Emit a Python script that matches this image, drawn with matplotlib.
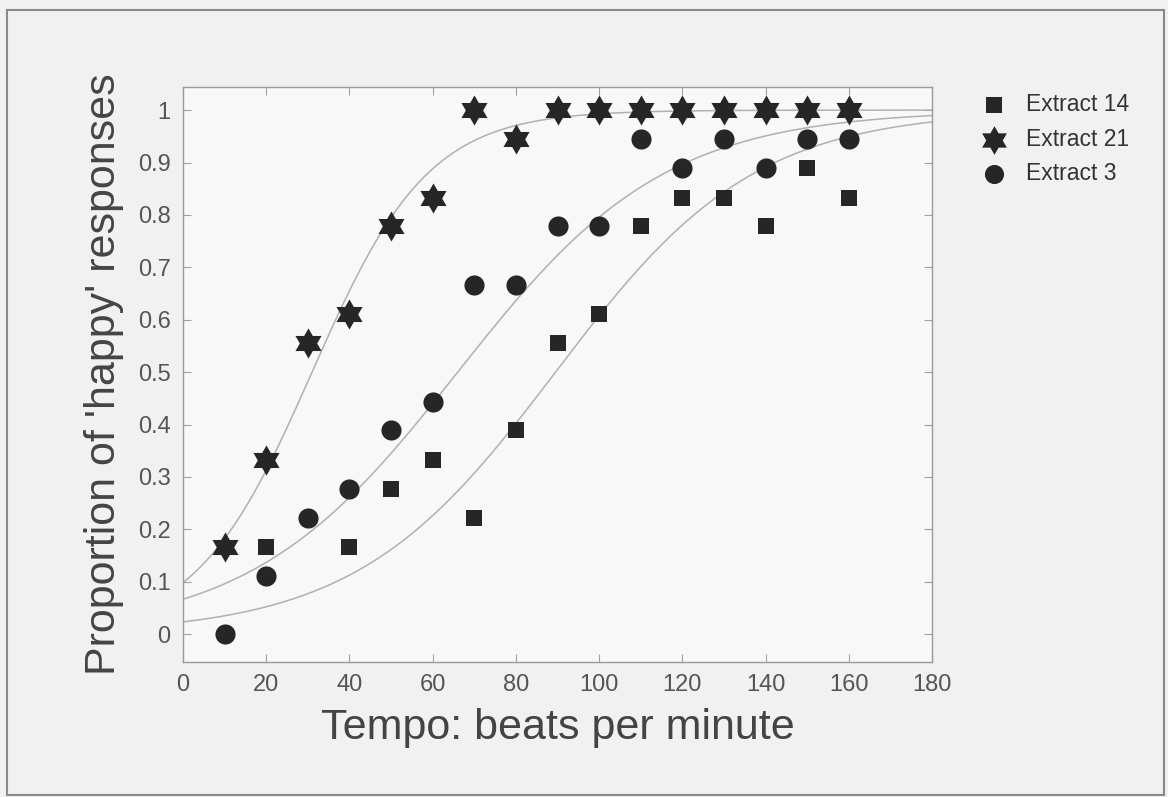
import numpy as np
import matplotlib
matplotlib.use("Agg")
import matplotlib.pyplot as plt
from matplotlib.path import Path
from matplotlib.patches import Rectangle

plt.rcParams['font.family'] = ['Liberation Sans', 'DejaVu Sans']

# ---- data ----
tempo_14 = [20, 40, 50, 60, 70, 80, 90, 100, 110, 120, 130, 140, 150, 160]
happy_14 = [0.167, 0.167, 0.278, 0.333, 0.222, 0.389, 0.556, 0.611, 0.778, 0.833, 0.833, 0.778, 0.889, 0.833]

tempo_21 = [10, 20, 30, 40, 50, 60, 70, 80, 90, 100, 110, 120, 130, 140, 150, 160]
happy_21 = [0.167, 0.333, 0.556, 0.611, 0.778, 0.833, 1.0, 0.944, 1.0, 1.0, 1.0, 1.0, 1.0, 1.0, 1.0, 1.0]

tempo_3 = [10, 20, 30, 40, 50, 60, 70, 80, 90, 100, 110, 120, 130, 140, 150, 160]
happy_3 = [0.0, 0.111, 0.222, 0.278, 0.389, 0.444, 0.667, 0.667, 0.778, 0.778, 0.944, 0.889, 0.944, 0.889, 0.944, 0.944]

# fitted logistic curves (midpoint, scale)
fit_14 = (89.5, 24.0)
fit_21 = (31.0, 14.0)
fit_3 = (66.0, 25.0)

labels = ["Extract 14", "Extract 21", "Extract 3"]
x_ticks = [0, 20, 40, 60, 80, 100, 120, 140, 160, 180]
y_ticks = [0, 0.1, 0.2, 0.3, 0.4, 0.5, 0.6, 0.7, 0.8, 0.9, 1.0]
y_ticklabels = ["0", "0.1", "0.2", "0.3", "0.4", "0.5", "0.6", "0.7", "0.8", "0.9", "1"]

# ---- figure ----
fig = plt.figure(figsize=(11.68, 7.97), dpi=100)
fig.patch.set_facecolor('#f1f1f1')
fig.patches.append(Rectangle((0.006, 0.003), 0.991, 0.984, transform=fig.transFigure,
                             fill=False, edgecolor='#8a8a8a', linewidth=1.5))

ax = fig.add_axes([0.1567, 0.1694, 0.6413, 0.7214])
ax.set_facecolor('#f8f8f8')

hexagram = Path.unit_regular_star(6, 0.577)
mark_col = '#262626'
curve_col = '#b0b0b0'

xs = np.linspace(0, 180, 400)
for (m, s) in (fit_14, fit_21, fit_3):
    ax.plot(xs, 1.0 / (1.0 + np.exp(-(xs - m) / s)), color=curve_col, lw=1.1, zorder=2)

ax.scatter(tempo_14, happy_14, marker='s', s=135, color=mark_col, label=labels[0], zorder=3, linewidths=0)
ax.scatter(tempo_21, happy_21, marker=hexagram, s=470, color=mark_col, label=labels[1], zorder=3, linewidths=0)
ax.scatter(tempo_3, happy_3, marker='o', s=210, color=mark_col, label=labels[2], zorder=3, linewidths=0)

ax.set_xlim(0, 180)
ax.set_ylim(-0.053, 1.044)
ax.set_xticks(x_ticks)
ax.set_yticks(y_ticks)
ax.set_yticklabels(y_ticklabels)

for sp in ax.spines.values():
    sp.set_color('#9a9a9a')
    sp.set_linewidth(1.0)
ax.tick_params(direction='in', length=6, width=0.8, color='#a0a0a0',
               top=True, right=True, labelsize=17, labelcolor='#555555', pad=9)

ax.set_xlabel("Tempo: beats per minute", fontsize=31, color='#444444', labelpad=8)
ax.set_ylabel("Proportion of 'happy' responses", fontsize=31, color='#444444', labelpad=10)

leg = ax.legend(loc='upper left', bbox_to_anchor=(1.04, 1.005), frameon=False,
                fontsize=16.5, handletextpad=0.4, labelspacing=0.5, markerscale=0.95,
                borderaxespad=0.0)
for t in leg.get_texts():
    t.set_color('#333333')

fig.savefig("out.png", dpi=100, facecolor=fig.get_facecolor())
